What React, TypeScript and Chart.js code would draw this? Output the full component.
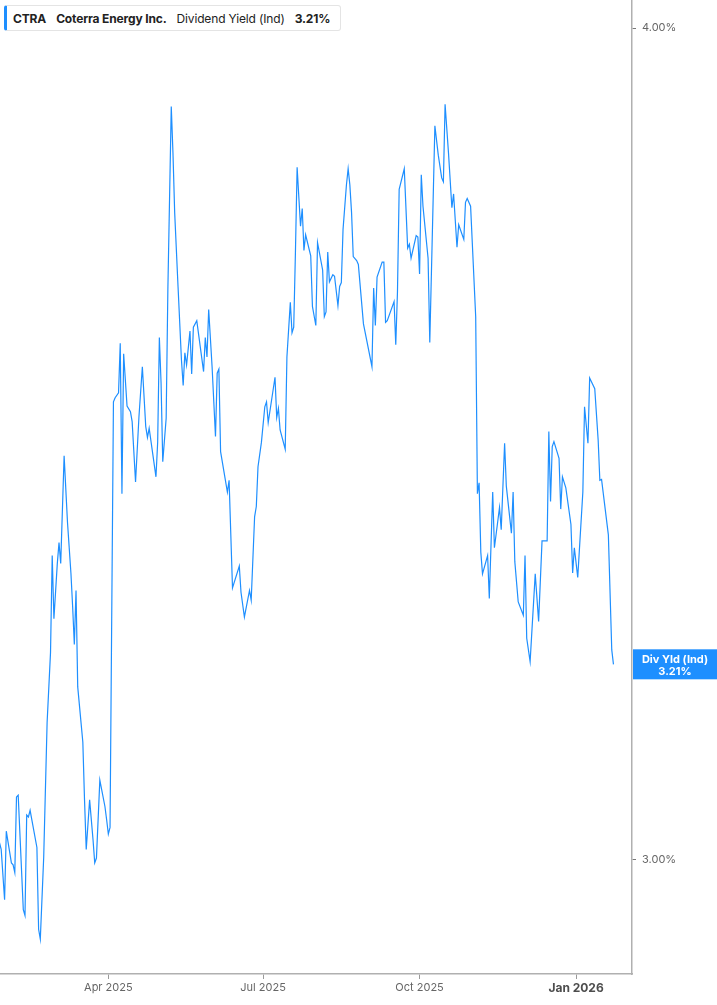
import { useEffect, useRef } from "react"
import { Chart, registerables } from "chart.js"
import type { Plugin } from "chart.js"

Chart.register(...registerables)

// days since 2025-01-01 for each traced point
const days = [
  26, 27, 29, 30, 33, 34, 35, 36, 37, 40, 41, 42, 43, 44, 48, 49, 50, 52, 54, 56,
  57, 58, 60, 61, 62, 64, 66, 68, 69, 70, 71, 72, 75, 76, 77, 79, 81, 82, 83, 85,
  88, 89, 90, 91, 93, 94, 96, 97, 98, 99, 101, 103, 104, 106, 108, 110, 112, 113, 114, 118,
  119, 120, 121, 122, 124, 125, 127, 128, 129, 131, 133, 134, 135, 136, 138, 139, 140, 142, 146, 147,
  148, 149, 151, 153, 154, 155, 156, 160, 161, 163, 167, 168, 170, 173, 174, 176, 177, 178, 180, 182,
  183, 184, 188, 189, 190, 191, 194, 195, 197, 198, 199, 200, 201, 203, 204, 205, 206, 209, 210, 212,
  213, 216, 217, 218, 219, 220, 222, 223, 225, 226, 227, 228, 230, 231, 232, 233, 234, 236, 237, 240,
  245, 246, 247, 248, 251, 252, 253, 254, 258, 259, 260, 261, 264, 266, 267, 268, 271, 272, 273, 274,
  275, 278, 279, 282, 284, 286, 287, 288, 290, 292, 293, 295, 296, 299, 300, 301, 303, 306, 307, 308,
  309, 310, 313, 314, 316, 317, 320, 321, 323, 324, 327, 328, 329, 331, 334, 335, 336, 338, 341, 343,
  345, 348, 349, 350, 351, 352, 355, 356, 357, 359, 362, 363, 364, 366, 369, 370, 372, 373, 376, 378,
  379, 380, 384, 386, 387,
]

// dividend yield, %
const yields = [
  3.018, 3.011, 2.959, 3.03, 2.997, 2.995, 2.987, 3.066, 3.068, 2.949, 2.943, 3.047, 3.045, 3.052, 3.013, 2.929, 2.919, 3.003, 3.146, 3.223,
  3.333, 3.261, 3.324, 3.348, 3.324, 3.45, 3.371, 3.313, 3.275, 3.232, 3.293, 3.185, 3.125, 3.063, 3.011, 3.063, 3.021, 2.997, 3.002, 3.084,
  3.056, 3.042, 3.027, 3.034, 3.515, 3.52, 3.526, 3.587, 3.405, 3.574, 3.51, 3.503, 3.491, 3.419, 3.497, 3.558, 3.485, 3.472, 3.483, 3.425,
  3.466, 3.594, 3.538, 3.443, 3.495, 3.654, 3.893, 3.831, 3.753, 3.657, 3.566, 3.535, 3.575, 3.56, 3.602, 3.549, 3.607, 3.615, 3.552, 3.594,
  3.57, 3.629, 3.558, 3.473, 3.55, 3.555, 3.455, 3.407, 3.421, 3.296, 3.321, 3.291, 3.263, 3.293, 3.282, 3.378, 3.39, 3.437, 3.466, 3.509,
  3.515, 3.49, 3.545, 3.496, 3.507, 3.481, 3.458, 3.57, 3.638, 3.6, 3.607, 3.701, 3.812, 3.735, 3.758, 3.704, 3.724, 3.697, 3.633, 3.609,
  3.714, 3.679, 3.62, 3.626, 3.702, 3.664, 3.673, 3.671, 3.634, 3.658, 3.663, 3.731, 3.789, 3.81, 3.789, 3.753, 3.696, 3.691, 3.686, 3.611,
  3.558, 3.656, 3.609, 3.67, 3.689, 3.689, 3.613, 3.615, 3.639, 3.585, 3.651, 3.783, 3.81, 3.707, 3.712, 3.694, 3.723, 3.721, 3.674, 3.802,
  3.761, 3.694, 3.588, 3.867, 3.828, 3.798, 3.793, 3.896, 3.831, 3.759, 3.777, 3.708, 3.737, 3.718, 3.766, 3.771, 3.761, 3.62, 3.405, 3.418,
  3.337, 3.312, 3.333, 3.284, 3.407, 3.342, 3.389, 3.363, 3.465, 3.414, 3.359, 3.407, 3.326, 3.28, 3.265, 3.333, 3.239, 3.213, 3.312, 3.258,
  3.35, 3.35, 3.479, 3.396, 3.461, 3.467, 3.447, 3.387, 3.425, 3.412, 3.369, 3.313, 3.342, 3.308, 3.407, 3.509, 3.465, 3.544, 3.531, 3.469,
  3.421, 3.422, 3.357, 3.226, 3.21,
]

const tickDays = [90, 181, 273, 365]
const tickLabels = ["Apr 2025", "Jul 2025", "Oct 2025", "Jan 2026"]
const yTicks = [3, 4]

const BLUE = "#1e8fff"
const FONT = "Inter, 'Noto Sans', sans-serif"

// blue value tag on the right axis at the last point
const lastValueTag: Plugin<"line"> = {
  id: "lastValueTag",
  afterDraw(chart) {
    const { ctx, chartArea, scales } = chart
    const last = yields[yields.length - 1]
    const y = scales.y.getPixelForValue(last)
    const x0 = chartArea.right + 1
    const w = chart.width - x0
    ctx.save()
    ctx.fillStyle = BLUE
    ctx.fillRect(x0, y - 15, w, 30)
    ctx.fillStyle = "#ffffff"
    ctx.font = `bold 11px ${FONT}`
    ctx.textAlign = "center"
    ctx.textBaseline = "middle"
    ctx.fillText("Div Yld (Ind)", x0 + w / 2, y - 5)
    ctx.fillText(`${last.toFixed(2)}%`, x0 + w / 2, y + 7)
    ctx.restore()
  },
}

export default function App() {
  const chartRef = useRef<HTMLCanvasElement>(null)

  useEffect(() => {
    if (!chartRef.current) return
    const chart = new Chart(chartRef.current, {
      type: "line",
      data: {
        datasets: [
          {
            data: days.map((d, i) => ({ x: d, y: yields[i] })),
            borderColor: BLUE,
            borderWidth: 1.2,
            pointRadius: 0,
            tension: 0,
          },
        ],
      },
      options: {
        animation: false,
        responsive: false,
        layout: { padding: 0 },
        plugins: { legend: { display: false }, tooltip: { enabled: false } },
        scales: {
          x: {
            type: "linear",
            position: "bottom",
            min: 26.3,
            max: 397.9,
            afterBuildTicks: (s) => {
              s.ticks = tickDays.map((v) => ({ value: v }))
            },
            afterFit: (s) => {
              s.height = 31
              s.paddingLeft = 0
              s.paddingRight = 0
            },
            grid: { drawOnChartArea: false, drawTicks: true, tickLength: 5, color: "#9a9a9a" },
            border: { display: true, color: "#b0b0b0", width: 1.5 },
            ticks: {
              autoSkip: false,
              maxRotation: 0,
              padding: 2,
              callback: (v) => tickLabels[tickDays.indexOf(Number(v))],
              color: (c) => (c.tick && c.tick.value === 365 ? "#4d4d4d" : "#666666"),
              font: (c) =>
                c.tick && c.tick.value === 365
                  ? { family: FONT, size: 12, weight: "bold" }
                  : { family: FONT, size: 11 },
            },
          },
          y: {
            type: "logarithmic",
            position: "right",
            min: 2.884,
            max: 4.039,
            afterBuildTicks: (s) => {
              s.ticks = yTicks.map((v) => ({ value: v }))
            },
            afterFit: (s) => {
              s.width = 85
              s.paddingTop = 0
              s.paddingBottom = 0
            },
            grid: { drawOnChartArea: false, drawTicks: true, tickLength: 4, color: "#777777" },
            border: { display: true, color: "#b0b0b0", width: 1.5 },
            ticks: {
              padding: 6,
              color: "#666666",
              font: { family: FONT, size: 11 },
              callback: (v) => `${Number(v).toFixed(2)}%`,
            },
          },
        },
      },
      plugins: [lastValueTag],
    })
    return () => chart.destroy()
  }, [])

  return (
    <div style={{ position: "absolute", left: 0, top: 0, width: 717, height: 1005, background: "#fff" }}>
      <canvas ref={chartRef} width={717} height={1005} style={{ width: 717, height: 1005 }} />
      <div
        style={{
          position: "absolute",
          left: 4,
          top: 5,
          width: 337,
          height: 26,
          boxSizing: "border-box",
          border: "1px solid #e4e4e4",
          borderLeft: `3px solid ${BLUE}`,
          borderRadius: 3,
          background: "#fff",
          display: "flex",
          alignItems: "center",
          gap: 10,
          paddingLeft: 6,
          fontFamily: FONT,
          fontSize: 12,
          letterSpacing: "-0.15px",
          color: "#222",
          whiteSpace: "nowrap",
        }}
      >
        <span style={{ fontWeight: 700 }}>CTRA</span>
        <span style={{ fontWeight: 700 }}>Coterra Energy Inc.</span>
        <span>Dividend Yield (Ind)</span>
        <span style={{ fontWeight: 700 }}>3.21%</span>
      </div>
    </div>
  )
}
